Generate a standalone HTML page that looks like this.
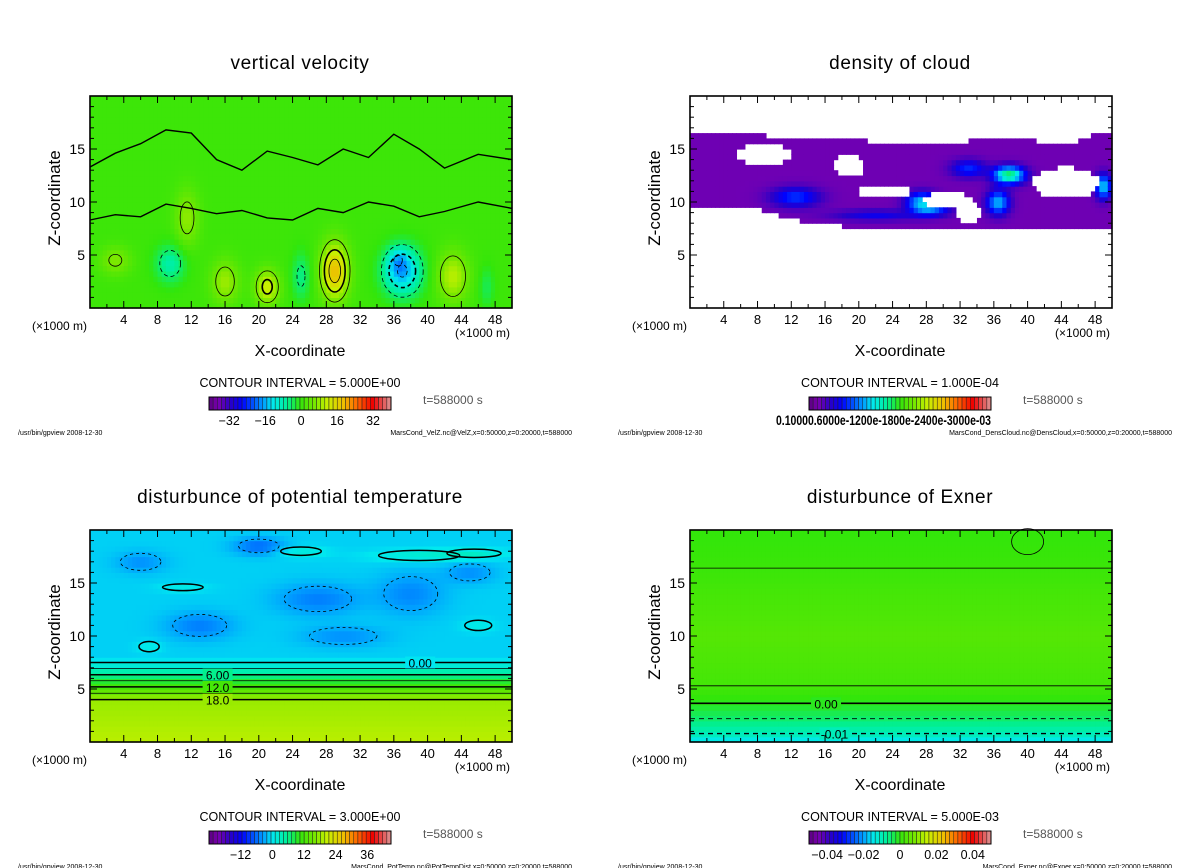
<!DOCTYPE html>
<html><head><meta charset="utf-8">
<style>
html,body{margin:0;padding:0;background:#fff;}
svg{display:block;font-family:"Liberation Sans","DejaVu Sans",sans-serif;}
</style></head>
<body>
<svg id="chart" width="1200" height="868" viewBox="0 0 1200 868" xmlns="http://www.w3.org/2000/svg"></svg>
<script>
// ---------- data ----------
var xTickLabels = [4,8,12,16,20,24,28,32,36,40,44,48];
var zTickLabels = [5,10,15];
var panelTitles = ["vertical velocity","density of cloud","disturbunce of potential temperature","disturbunce of Exner"];
var intervalTexts = ["CONTOUR INTERVAL = 5.000E+00","CONTOUR INTERVAL = 1.000E-04","CONTOUR INTERVAL = 3.000E+00","CONTOUR INTERVAL = 5.000E-03"];
var footerRight = ["MarsCond_VelZ.nc@VelZ,x=0:50000,z=0:20000,t=588000","MarsCond_DensCloud.nc@DensCloud,x=0:50000,z=0:20000,t=588000","MarsCond_PotTemp.nc@PotTempDist,x=0:50000,z=0:20000,t=588000","MarsCond_Exner.nc@Exner,x=0:50000,z=0:20000,t=588000"];
var cbarLabels0 = [-32,-16,0,16,32];
var cbarLabels2 = [-12,0,12,24,36];
var cbarLabels3 = ["-0.04","-0.02","0","0.02","0.04"];
var cbarValues3 = [-0.04,-0.02,0,0.02,0.04];
// vertical velocity features: x(km), z(km), rx, rz, amplitude (m/s)
var velX = [29,21,16,43,3,11.5,37,25,9.5,47,36.5];
var velZ = [3.5,2,2.5,3,4.5,8.5,3.5,3,4.2,2,4.5];
var velRX = [1.6,1.4,1.6,1.8,1.8,1.4,2.3,1.1,1.8,0.9,1.2];
var velRZ = [2.6,1.6,2,2.3,1.3,2.6,2.3,2.3,1.8,2,1.2];
var velAmp = [18,12,8,10,6,7,-16,-6,-8,-4,-6];
// cloud envelope sampled every 2 km (0..50)
var cloudTop = [16.6,16.5,16.3,16.3,16.3,16.2,16.0,16.0,16.0,15.8,15.8,15.7,15.5,15.5,15.4,15.4,15.5,16.0,16.0,16.0,15.9,15.6,15.6,15.7,16.4,16.5];
var cloudBottom = [9.8,9.3,9.6,9.5,9.3,9.0,8.3,8.2,8.2,7.7,7.7,7.7,7.7,7.7,7.7,7.7,7.7,7.7,7.7,7.7,7.7,7.7,7.7,7.7,7.7,7.7];
var holeX = [8.8,18.8,23,30.5,44.5,2.5,33];
var holeZ = [14.5,13.4,11.0,10.2,11.8,9.0,9.0];
var holeRX = [3.4,1.8,3.5,3.2,4.0,1.6,1.5];
var holeRZ = [1.0,1.1,0.6,0.7,1.5,0.6,1.0];
var cloudBlobX = [12.5,27.5,37.8,36.5,33,49,22,29];
var cloudBlobZ = [10.5,10,12.6,10,13.2,11.5,8.8,9.2];
var cloudBlobRX = [2.8,1.8,1.8,1.3,2.0,0.9,5,2];
var cloudBlobRZ = [0.9,0.9,0.8,1.1,0.8,1.1,0.5,0.5];
var cloudBlobAmp = [0.16,0.28,0.4,0.26,0.15,0.28,0.1,0.13];
// potential temperature: profile vs z, and patches
var thetaProfZ = [0,4.0,5.2,6.35,7.5,8.2,20];
var thetaProfV = [20,18,12,6,0.5,-1,-1];
var thetaPatchX = [13,27,6,38,45,20,25,39,45.5,11,46,7,30];
var thetaPatchZ = [11,13.5,17,14,16,18.5,18,17.6,17.8,14.6,11,9,10];
var thetaPatchRX = [4,5,3,4,3,3,3,6,4,3,2,1.5,5];
var thetaPatchRZ = [1.3,1.5,1,2,1,0.8,0.5,0.6,0.5,0.4,0.6,0.6,1];
var thetaPatchAmp = [-4,-4,-3,-3.5,-3,-5,3,3,3,2,2,2,-3];
var thetaLines = [18,12,6,0];
var thetaLineZ = [4.0,5.2,6.35,7.5];
var thetaLineLabels = ["18.0","12.0","6.00","0.00"];
// Exner profile vs z
var exnerProfZ = [0,0.8,2.2,3.65,5.3,10,16.4,20];
var exnerProfV = [-0.016,-0.01,-0.005,-0.001,0.002,0.004,0.001,0.0];
var exnerLineZ = [16.4,5.3,3.65,2.2,0.8];
var exnerLineDash = [0,0,0,1,1];
var exnerLineW = [0.8,0.8,1.6,0.8,1.4];

// ---------- helpers ----------
var svg = document.getElementById('chart');
var NS = 'http://www.w3.org/2000/svg';
function mk(tag, attrs, parent){ var e=document.createElementNS(NS,tag); for(var k in attrs) e.setAttribute(k,attrs[k]); (parent||svg).appendChild(e); return e; }
var stops=[[0,[90,0,128]],[0.05,[122,0,176]],[0.12,[40,0,200]],[0.18,[0,0,255]],[0.3,[0,160,255]],[0.35,[0,232,240]],[0.43,[0,240,150]],[0.5,[50,230,10]],[0.58,[120,232,0]],[0.65,[200,240,0]],[0.74,[240,190,0]],[0.82,[255,96,0]],[0.9,[240,0,0]],[1,[220,150,150]]];
function cmap(t){ t=Math.max(0,Math.min(1,t)); for(var i=1;i<stops.length;i++){ if(t<=stops[i][0]){ var a=stops[i-1],b=stops[i],f=(t-a[0])/(b[0]-a[0]); return 'rgb('+[0,1,2].map(function(j){return Math.round(a[1][j]+(b[1][j]-a[1][j])*f);}).join(',')+')'; } } return 'rgb(220,150,150)'; }
function interp(xs,ys,x){ if(x<=xs[0]) return ys[0]; for(var i=1;i<xs.length;i++){ if(x<=xs[i]){ var f=(x-xs[i-1])/(xs[i]-xs[i-1]); return ys[i-1]+(ys[i]-ys[i-1])*f; } } return ys[ys.length-1]; }
function gauss(x,z,cx,cz,rx,rz){ var dx=(x-cx)/rx,dz=(z-cz)/rz; return Math.exp(-(dx*dx+dz*dz)); }

var panels=[{ox:0,oy:0},{ox:600,oy:0},{ox:0,oy:434},{ox:600,oy:434}];
var ranges=[[-41,40],[0,1],[-24,45],[-0.05,0.05]];

function fieldVel(x,z){ var v=0.5; for(var i=0;i<velX.length;i++) v+=velAmp[i]*gauss(x,z,velX[i],velZ[i],velRX[i],velRZ[i]); return v; }
function fieldCloud(x,z){
  var top=interp([0,2,4,6,8,10,12,14,16,18,20,22,24,26,28,30,32,34,36,38,40,42,44,46,48,50],cloudTop,x);
  var bot=interp([0,2,4,6,8,10,12,14,16,18,20,22,24,26,28,30,32,34,36,38,40,42,44,46,48,50],cloudBottom,x);
  if(z>top||z<bot) return null;
  for(var i=0;i<holeX.length;i++){ var dx=(x-holeX[i])/holeRX[i],dz=(z-holeZ[i])/holeRZ[i]; if(dx*dx+dz*dz<1) return null; }
  var v=0.06; for(var j=0;j<cloudBlobX.length;j++) v+=cloudBlobAmp[j]*gauss(x,z,cloudBlobX[j],cloudBlobZ[j],cloudBlobRX[j],cloudBlobRZ[j]); return v;
}
function fieldTheta(x,z){ var v=interp(thetaProfZ,thetaProfV,z); if(z>7.8){ for(var i=0;i<thetaPatchX.length;i++) v+=thetaPatchAmp[i]*gauss(x,z,thetaPatchX[i],thetaPatchZ[i],thetaPatchRX[i],thetaPatchRZ[i]); } return v; }
function fieldExner(x,z){ return interp(exnerProfZ,exnerProfV,z); }
var fields=[fieldVel,fieldCloud,fieldTheta,fieldExner];

function drawPanel(p){
  var P=panels[p], g=mk('g',{});
  
  
  var X0=90+P.ox, X1=512+P.ox, Y0=96+P.oy, Y1=308+P.oy;
  function sx(x){ return X0+(X1-X0)*x/50; }
  function sz(z){ return Y1-(Y1-Y0)*z/20; }
  var t=mk('text',{x:300+P.ox,y:69+P.oy,'font-size':19,'text-anchor':'middle','letter-spacing':0.6},g); t.textContent=panelTitles[p];
   
  var hm=mk('g',{},g);  
  var nx=100,nz=40,dx=50/nx,dz=20/nz,r=ranges[p];
  for(var i=0;i<nx;i++) for(var j=0;j<nz;j++){
    var xc=(i+0.5)*dx, zc=(j+0.5)*dz, v=fields[p](xc,zc);
    if(v===null) continue;
    var c=mk('rect',{x:sx(i*dx).toFixed(2),y:sz((j+1)*dz).toFixed(2),width:((X1-X0)/nx+0.6).toFixed(2),height:((Y1-Y0)/nz+0.6).toFixed(2),fill:cmap((v-r[0])/(r[1]-r[0]))},hm);
     
  }
  var cg=mk('g',{fill:'none',stroke:'#000'},g);  
  if(p===0){
    for(var k=0;k<velX.length;k++){
      var a=Math.abs(velAmp[k]), dash=velAmp[k]<0?'4,3':'none';
      [5,10,15].forEach(function(lv,li){ if(a>lv*1.05){ var s=Math.sqrt(Math.log(a/lv));
        var e=mk('ellipse',{cx:sx(velX[k]),cy:sz(velZ[k]),rx:(velRX[k]*s*(X1-X0)/50).toFixed(1),ry:(velRZ[k]*s*(Y1-Y0)/20).toFixed(1),'stroke-width':li===1?1.6:0.8,'stroke-dasharray':dash},cg);
          } });
    }
    var zl=[[0,8.3],[3,8.8],[6,8.6],[9,9.8],[12,9.4],[15,8.9],[18,9.2],[21,8.5],[24,8.3],[27,9.4],[30,9],[33,10],[36,9.6],[39,8.6],[42,9.1],[46,10],[50,9.4]];
    var pl=mk('path',{d:'M'+zl.map(function(q){return sx(q[0]).toFixed(1)+','+sz(q[1]).toFixed(1);}).join(' L'),'stroke-width':1.4},cg);  
    var zl2=[[0,13.3],[3,14.6],[6,15.5],[9,16.8],[12,16.5],[15,14],[18,13],[21,14.8],[24,14.2],[27,13.5],[30,15],[33,14.2],[36,16.4],[39,15],[42,13.2],[46,14.5],[50,14]];
    var pl2=mk('path',{d:'M'+zl2.map(function(q){return sx(q[0]).toFixed(1)+','+sz(q[1]).toFixed(1);}).join(' L'),'stroke-width':1.4},cg);
     
  }
  if(p===2){
    for(var k2=0;k2<thetaLines.length;k2++){
      var yy=sz(thetaLineZ[k2]);
      var ln=mk('line',{x1:X0,x2:X1,y1:yy,y2:yy,'stroke-width':1.5},cg);  
      if(k2<3){ var y2=sz((thetaLineZ[k2]+thetaLineZ[k2+1])/2); var l2=mk('line',{x1:X0,x2:X1,y1:y2,y2:y2,'stroke-width':0.7},cg);   }
      var lx=sx(k2===3?39:15);
      mk('rect',{x:lx-14,y:yy-6,width:30,height:12,fill:cmap((thetaLines[k2]-r[0])/(r[1]-r[0])),stroke:'none'},g);
      var lb=mk('text',{x:lx+1,y:yy+5,'font-size':12,'text-anchor':'middle'},g); lb.textContent=thetaLineLabels[k2];
       
    }
    for(var k3=0;k3<thetaPatchX.length;k3++){
      var e2=mk('ellipse',{cx:sx(thetaPatchX[k3]),cy:sz(thetaPatchZ[k3]),rx:(thetaPatchRX[k3]*0.8*(X1-X0)/50).toFixed(1),ry:(thetaPatchRZ[k3]*0.8*(Y1-Y0)/20).toFixed(1),'stroke-width':thetaPatchAmp[k3]>0?1.5:0.8,'stroke-dasharray':thetaPatchAmp[k3]>0?'none':'3,3'},cg);
       
    }
  }
  if(p===3){
    for(var k4=0;k4<exnerLineZ.length;k4++){
      var y4=sz(exnerLineZ[k4]);
      var l4=mk('line',{x1:X0,x2:X1,y1:y4,y2:y4,'stroke-width':exnerLineW[k4],'stroke-dasharray':exnerLineDash[k4]?'5,4':'none'},cg);
       
    }
    var ec=mk('ellipse',{cx:sx(40),cy:sz(18.9),rx:16,ry:13,'stroke-width':0.8},cg);  
    [[3.65,16,"0.00"],[0.8,17,"-0.01"]].forEach(function(q){ var yy=sz(q[0]); mk('rect',{x:sx(q[1])-14,y:yy-6,width:30,height:12,fill:cmap((interp(exnerProfZ,exnerProfV,q[0])-r[0])/(r[1]-r[0]))},g);
      var lb=mk('text',{x:sx(q[1])+1,y:yy+5,'font-size':12,'text-anchor':'middle'},g); lb.textContent=q[2];   });
  }
  var fr=mk('rect',{x:X0,y:Y0,width:X1-X0,height:Y1-Y0,fill:'none',stroke:'#000','stroke-width':1.6},g);
   
  var tk=mk('g',{stroke:'#000','stroke-width':1},g);  
  for(var xv=2;xv<50;xv+=2){ var L=(xv%4===0)?7:4; mk('line',{x1:sx(xv),x2:sx(xv),y1:Y1,y2:Y1-L},tk); mk('line',{x1:sx(xv),x2:sx(xv),y1:Y0,y2:Y0+L},tk); }
  for(var zv=1;zv<20;zv++){ var L2=(zv%5===0)?7:4; mk('line',{x1:X0,x2:X0+L2,y1:sz(zv),y2:sz(zv)},tk); mk('line',{x1:X1,x2:X1-L2,y1:sz(zv),y2:sz(zv)},tk); }
  xTickLabels.forEach(function(v){ var tt=mk('text',{x:sx(v),y:Y1+16,'font-size':13,'text-anchor':'middle'},g); tt.textContent=v;   });
  zTickLabels.forEach(function(v){ var tt=mk('text',{x:X0-5,y:sz(v)+5,'font-size':14,'text-anchor':'end'},g); tt.textContent=v;   });
  var u1=mk('text',{x:32+P.ox,y:Y1+22,'font-size':12},g); u1.textContent='(\u00d71000 m)';  
  var u2=mk('text',{x:455+P.ox,y:Y1+29,'font-size':12},g); u2.textContent='(\u00d71000 m)';  
  var xt=mk('text',{x:300+P.ox,y:Y1+48,'font-size':16,'text-anchor':'middle'},g); xt.textContent='X-coordinate';  
  var yt=mk('text',{x:0,y:0,'font-size':17,'text-anchor':'middle',transform:'translate('+(60+P.ox)+','+(198+P.oy)+') rotate(-90)'},g); yt.textContent='Z-coordinate';  
  var ci=mk('text',{x:300+P.ox,y:387+P.oy,'font-size':12.5,'text-anchor':'middle'},g); ci.textContent=intervalTexts[p];  
  var cb=mk('g',{},g);  
  var CB0=209+P.ox, CB1=391+P.ox, CY=397+P.oy, nb=44;
  for(var b=0;b<nb;b++){ var rc=mk('rect',{x:(CB0+(CB1-CB0)*b/nb).toFixed(2),y:CY,width:((CB1-CB0)/nb).toFixed(2),height:13,fill:cmap((b+0.5)/nb),stroke:'#222','stroke-width':0.5},cb);   }
  mk('rect',{x:CB0,y:CY,width:CB1-CB0,height:13,fill:'none',stroke:'#000','stroke-width':1},cb);
  function cbx(v){ return CB0+(CB1-CB0)*(v-r[0])/(r[1]-r[0]); }
  var labs=[], vals=[];
  if(p===0){labs=cbarLabels0;vals=cbarLabels0;} if(p===2){labs=cbarLabels2;vals=cbarLabels2;} if(p===3){labs=cbarLabels3;vals=cbarValues3;}
  labs.forEach(function(l,i){ var tt=mk('text',{x:cbx(vals[i]),y:CY+28,'font-size':12.5,'text-anchor':'middle'},cb); tt.textContent=(''+l).replace('-','\u2212');   });
  if(p===1){ var tt=mk('text',{x:776,y:CY+28,'font-size':14,'font-weight':'bold',textLength:215,lengthAdjust:'spacingAndGlyphs'},cb); tt.textContent='0.10000.6000e-1200e-1800e-2400e-3000e-03';   }
  var tm=mk('text',{x:423+P.ox,y:404+P.oy,'font-size':12,fill:'#555'},g); tm.textContent='t=588000 s';  
  var f1=mk('text',{x:18+P.ox,y:435+P.oy,'font-size':7},g); f1.textContent='/usr/bin/gpview   2008-12-30';  
  var f2=mk('text',{x:572+P.ox,y:435+P.oy,'font-size':7,'text-anchor':'end'},g); f2.textContent=footerRight[p];  
}
for(var pi=0;pi<4;pi++) drawPanel(pi);
</script>
</body></html>
